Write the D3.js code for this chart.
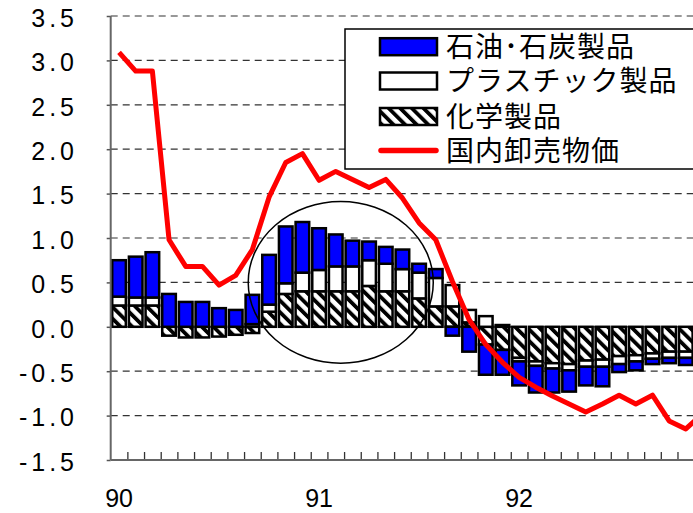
<!DOCTYPE html>
<html>
<head>
<meta charset="utf-8">
<script src="https://cdn.jsdelivr.net/npm/d3@7"></script>
<style>
  html, body { margin: 0; padding: 0; background: #fff; }
  svg { display: block; }
</style>
</head>
<body>
<div id="chart"></div>
<script>
// months Jan 1990 .. Dec 1992 (last one only partly visible)
const months = [
  '1990-01','1990-02','1990-03','1990-04','1990-05','1990-06','1990-07','1990-08','1990-09','1990-10','1990-11','1990-12',
  '1991-01','1991-02','1991-03','1991-04','1991-05','1991-06','1991-07','1991-08','1991-09','1991-10','1991-11','1991-12',
  '1992-01','1992-02','1992-03','1992-04','1992-05','1992-06','1992-07','1992-08','1992-09','1992-10','1992-11','1992-12'
]
const yearLabels = ['90', '91', '92']
const yearLabelMonths = ['1990-01', '1991-01', '1992-01']
const yTicks = [3.5, 3.0, 2.5, 2.0, 1.5, 1.0, 0.5, 0.0, -0.5, -1.0, -1.5]
const yTickLabels = ['3.5','3.0','2.5','2.0','1.5','1.0','0.5','0.0','-0.5','-1.0','-1.5']

const seriesNames = ['石油･石炭製品', 'プラスチック製品', '化学製品', '国内卸売物価']

// 化学製品
const chemical = [0.24, 0.24, 0.24, -0.10, -0.12, -0.12, -0.11, -0.09, -0.07, 0.17, 0.37, 0.40,
  0.40, 0.40, 0.40, 0.46, 0.40, 0.40, 0.32, 0.23, 0.23, 0.05, -0.20, -0.26,
  -0.35, -0.39, -0.41, -0.42, -0.38, -0.37, -0.33, -0.32, -0.30, -0.28, -0.28]
// プラスチック製品
const plastic = [0.10, 0.09, 0.09, 0.0, 0.0, 0.0, 0.0, 0.0, 0.03, 0.08, 0.12, 0.21,
  0.24, 0.28, 0.28, 0.29, 0.31, 0.25, 0.29, 0.32, 0.24, 0.14, 0.12, 0.02,
  -0.04, -0.05, -0.06, -0.07, -0.07, -0.08, -0.09, -0.07, -0.06, -0.07, -0.07]
// 石油・石炭製品
const petroleum = [0.41, 0.46, 0.51, 0.37, 0.28, 0.28, 0.21, 0.19, 0.33, 0.56, 0.64, 0.57,
  0.47, 0.36, 0.29, 0.21, 0.19, 0.22, 0.10, 0.10, -0.10, -0.28, -0.34, -0.28,
  -0.27, -0.30, -0.27, -0.24, -0.21, -0.22, -0.09, -0.10, -0.06, -0.06, -0.08]
// 国内卸売物価
const wholesale = [3.09, 2.88, 2.88, 0.98, 0.68, 0.68, 0.47, 0.58, 0.87, 1.46, 1.85, 1.95,
  1.65, 1.75, 1.66, 1.57, 1.66, 1.45, 1.17, 0.98, 0.51, 0.08, -0.20, -0.40,
  -0.57, -0.68, -0.78, -0.87, -0.96, -0.87, -0.77, -0.87, -0.77, -1.06, -1.15, -0.98]

// highlight ellipse (in month units / value units)
const ringCenter = { month: 13.8, value: 0.5 }
const ringRadius = { months: 5.55, value: 0.91 }

const width = 693
const height = 513
const left = 110.7
const step = 16.67
const numFont = '"Liberation Sans", Arial, sans-serif'
const jpFont = '"Noto Sans CJK JP", "Noto Sans CJK SC", sans-serif'

const svg = d3.select('#chart').append('svg')
  .attr('width', width).attr('height', height)
  .attr('viewBox', `0 0 ${width} ${height}`)

const defs = svg.append('defs')
const hatch = defs.append('pattern')
  .attr('id', 'hatch')
  .attr('patternUnits', 'userSpaceOnUse')
  .attr('width', 8.2).attr('height', 8.2)
  .attr('patternTransform', 'rotate(-45)')
hatch.append('rect').attr('width', 8.2).attr('height', 8.2).attr('fill', '#fff')
hatch.append('rect').attr('width', 3.8).attr('height', 8.2).attr('fill', '#000')

const x = d3.scaleBand().domain(months).range([left, left + months.length * step])
const xi = d3.scaleLinear().domain([0, months.length]).range([left, left + months.length * step])
const y = d3.scaleLinear().domain([-1.5, 3.5]).range([460, 16])

// dashed grid
svg.append('g')
  .selectAll('line')
  .data(yTicks.filter(d => d > -1.5))
  .join('line')
  .attr('x1', left).attr('x2', width)
  .attr('y1', d => y(d)).attr('y2', d => y(d))
  .attr('stroke', '#333')
  .attr('stroke-width', 1.2)
  .attr('stroke-dasharray', '7,5')

// stacked bars
const rows = chemical.map((c, i) => ({
  month: months[i], chem: c, plastic: plastic[i], petro: petroleum[i]
}))
const stack = d3.stack()
  .keys(['chem', 'plastic', 'petro'])
  .offset(d3.stackOffsetDiverging)(rows)
const fills = { chem: 'url(#hatch)', plastic: '#fff', petro: '#0000ff' }
const barW = 13.6

svg.append('g')
  .selectAll('g')
  .data(stack)
  .join('g')
  .attr('fill', d => fills[d.key])
  .selectAll('rect')
  .data(d => d.filter(s => s[1] - s[0] !== 0))
  .join('rect')
  .attr('x', d => x(d.data.month) + (step - barW) / 2)
  .attr('width', barW)
  .attr('y', d => y(Math.max(d[0], d[1])))
  .attr('height', d => Math.abs(y(d[0]) - y(d[1])))
  .attr('stroke', '#000')
  .attr('stroke-width', 2.5)

// axes
const yAxis = svg.append('g')
  .attr('transform', `translate(${left},0)`)
  .call(d3.axisLeft(y).tickValues(yTicks).tickSize(4).tickFormat(''))
yAxis.select('.domain').remove()
yAxis.selectAll('line').attr('stroke', '#555').attr('stroke-width', 1.5)

svg.append('g')
  .selectAll('text')
  .data(yTicks)
  .join('text')
  .attr('x', 78)
  .attr('y', d => y(d) + 10.7)
  .attr('text-anchor', 'end')
  .attr('font-family', numFont)
  .attr('font-size', 25)
  .attr('letter-spacing', 4)
  .attr('fill', '#000')
  .text((d, i) => yTickLabels[i])

const xAxis = svg.append('g')
  .attr('transform', `translate(0,${y(-1.5)})`)
  .call(d3.axisBottom(xi).tickValues(d3.range(1, months.length)).tickSize(-8).tickFormat(''))
xAxis.select('.domain').remove()
xAxis.selectAll('line').attr('stroke', '#333').attr('stroke-width', 1.3)

svg.append('line')
  .attr('x1', left).attr('x2', width)
  .attr('y1', y(-1.5)).attr('y2', y(-1.5))
  .attr('stroke', '#666').attr('stroke-width', 2)
svg.append('line')
  .attr('x1', left).attr('x2', left)
  .attr('y1', y(3.5)).attr('y2', y(-1.5))
  .attr('stroke', '#666').attr('stroke-width', 2)

svg.append('g')
  .selectAll('text')
  .data(yearLabels)
  .join('text')
  .attr('x', (d, i) => x(yearLabelMonths[i]) + step / 2)
  .attr('y', 507)
  .attr('text-anchor', 'middle')
  .attr('font-family', numFont)
  .attr('font-size', 25)
  .attr('fill', '#000')
  .text(d => d)

// wholesale price line
const line = d3.line()
  .x((d, i) => x(months[i]) + step / 2)
  .y(d => y(d))
svg.append('path')
  .datum(wholesale)
  .attr('d', line)
  .attr('fill', 'none')
  .attr('stroke', '#ff0000')
  .attr('stroke-width', 5)
  .attr('stroke-linejoin', 'round')

// highlight ring
svg.append('ellipse')
  .attr('cx', xi(ringCenter.month))
  .attr('cy', y(ringCenter.value))
  .attr('rx', xi(ringCenter.month + ringRadius.months) - xi(ringCenter.month))
  .attr('ry', y(ringCenter.value - ringRadius.value) - y(ringCenter.value))
  .attr('fill', 'none')
  .attr('stroke', '#000')
  .attr('stroke-width', 1.5)

// legend
const legend = svg.append('g')
legend.append('rect')
  .attr('x', 345).attr('y', 29)
  .attr('width', 360).attr('height', 140)
  .attr('fill', '#fff').attr('stroke', '#000').attr('stroke-width', 1.5)

const legendFill = ['#0000ff', '#fff', 'url(#hatch)']
const rowY = [46.7, 81, 116.5, 150.5]
const item = legend.selectAll('g.item')
  .data(seriesNames)
  .join('g')
  .attr('class', 'item')
  .attr('transform', (d, i) => `translate(0,${rowY[i]})`)

item.filter((d, i) => i < 3)
  .append('rect')
  .attr('x', 380).attr('y', -8.5)
  .attr('width', 57).attr('height', 17)
  .attr('fill', (d, i) => legendFill[i])
  .attr('stroke', '#000').attr('stroke-width', 2.5)

item.filter((d, i) => i === 3)
  .append('line')
  .attr('x1', 381).attr('x2', 436)
  .attr('stroke', '#ff0000').attr('stroke-width', 5.5)
  .attr('stroke-linecap', 'round')

item.append('text')
  .attr('x', 446)
  .attr('y', 10)
  .attr('font-family', jpFont)
  .attr('font-size', 28)
  .attr('letter-spacing', 1)
  .attr('fill', '#000')
  .text(d => d)
</script>
</body>
</html>
